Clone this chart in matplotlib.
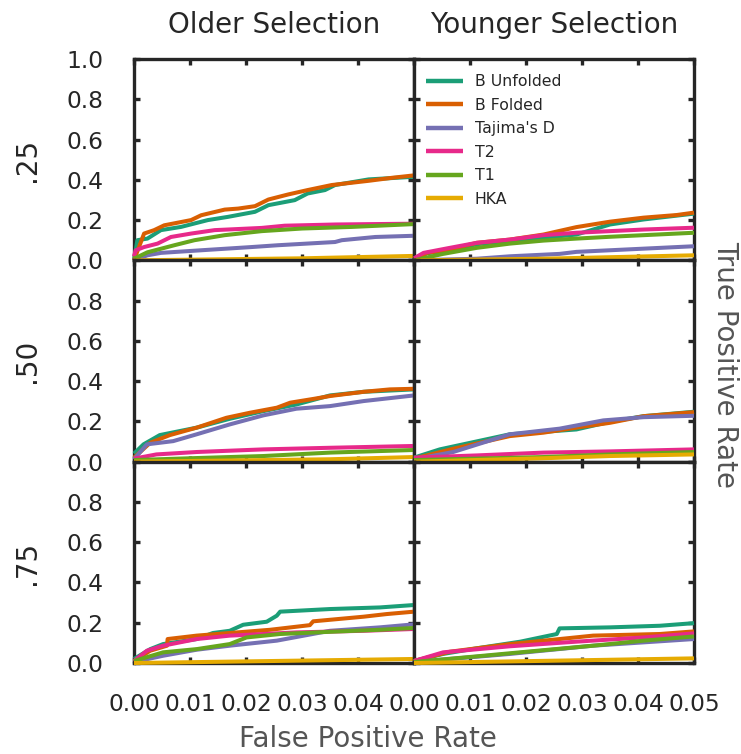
import matplotlib
matplotlib.use("Agg")
import matplotlib.pyplot as plt

# ---------------- data ----------------
series_names = ["B Unfolded", "B Folded", "Tajima's D", "T2", "T1", "HKA"]
series_colors = ["#1b9e77", "#d95f02", "#7570b3", "#e7298a", "#66a61e", "#e6ab02"]
col_titles = ["Older Selection", "Younger Selection"]
row_labels = [".25", ".50", ".75"]
x_ticks = [0.00, 0.01, 0.02, 0.03, 0.04, 0.05]
x_ticklabels = ["0.00", "0.01", "0.02", "0.03", "0.04", "0.05"]
y_ticks = [0.0, 0.2, 0.4, 0.6, 0.8, 1.0]
y_ticklabels = ["0.0", "0.2", "0.4", "0.6", "0.8", "1.0"]

older_25 = {
    "B Unfolded": ([0, 0.0006, 0.0024, 0.0048, 0.0084, 0.0132, 0.0168, 0.0216, 0.024, 0.0287, 0.031, 0.0341, 0.0359, 0.0419, 0.05],
                   [0, 0.10, 0.108, 0.15, 0.166, 0.20, 0.216, 0.241, 0.274, 0.299, 0.332, 0.349, 0.374, 0.402, 0.415]),
    "B Folded": ([0, 0.0018, 0.0036, 0.0054, 0.0102, 0.012, 0.0162, 0.0186, 0.0216, 0.024, 0.0275, 0.031, 0.0353, 0.0419, 0.0461, 0.05],
                 [0, 0.133, 0.15, 0.174, 0.20, 0.224, 0.252, 0.257, 0.269, 0.302, 0.327, 0.349, 0.374, 0.395, 0.41, 0.422]),
    "Tajima's D": ([0, 0.0024, 0.0048, 0.012, 0.021, 0.0257, 0.0359, 0.0371, 0.0431, 0.05],
                   [0, 0.025, 0.037, 0.05, 0.066, 0.075, 0.091, 0.10, 0.116, 0.122]),
    "T2": ([0, 0.0003, 0.0018, 0.0042, 0.0066, 0.0102, 0.0144, 0.0228, 0.0269, 0.0359, 0.05],
           [0.02, 0.05, 0.066, 0.083, 0.116, 0.133, 0.15, 0.161, 0.172, 0.178, 0.182]),
    "T1": ([0, 0.0024, 0.0072, 0.0108, 0.0162, 0.0228, 0.030, 0.0389, 0.05],
           [0.008, 0.04, 0.075, 0.10, 0.125, 0.145, 0.158, 0.166, 0.18]),
    "HKA": ([0, 0.030, 0.05],
            [0, 0.01, 0.022]),
}

younger_25 = {
    "B Unfolded": ([0, 0.0023, 0.0064, 0.0112, 0.0171, 0.0231, 0.029, 0.035, 0.041, 0.05],
                   [0, 0.035, 0.05, 0.08, 0.098, 0.112, 0.128, 0.178, 0.203, 0.232]),
    "B Folded": ([0, 0.0023, 0.0064, 0.0112, 0.0171, 0.0231, 0.029, 0.035, 0.041, 0.0469, 0.05],
                 [0, 0.037, 0.053, 0.087, 0.103, 0.128, 0.165, 0.192, 0.212, 0.225, 0.237]),
    "Tajima's D": ([0, 0.0112, 0.0171, 0.026, 0.029, 0.035, 0.041, 0.05],
                   [0, 0.008, 0.02, 0.032, 0.042, 0.05, 0.058, 0.07]),
    "T2": ([0, 0.0017, 0.0064, 0.0112, 0.0171, 0.0231, 0.029, 0.035, 0.041, 0.05],
           [0.01, 0.037, 0.062, 0.087, 0.103, 0.125, 0.137, 0.145, 0.153, 0.162]),
    "T1": ([0, 0.0052, 0.0112, 0.0171, 0.0231, 0.029, 0.035, 0.041, 0.05],
           [0, 0.032, 0.062, 0.083, 0.098, 0.108, 0.117, 0.125, 0.137]),
    "HKA": ([0, 0.0231, 0.05],
            [0, 0.008, 0.025]),
}

older_50 = {
    "B Unfolded": ([0, 0.0017, 0.0046, 0.0112, 0.0171, 0.0231, 0.029, 0.035, 0.041, 0.05],
                   [0.04, 0.086, 0.132, 0.169, 0.213, 0.251, 0.284, 0.329, 0.347, 0.359]),
    "B Folded": ([0, 0.0029, 0.0064, 0.0112, 0.0165, 0.0207, 0.0255, 0.0279, 0.0321, 0.035, 0.041, 0.0457, 0.05],
                 [0.02, 0.094, 0.132, 0.169, 0.218, 0.243, 0.268, 0.293, 0.312, 0.326, 0.347, 0.359, 0.362]),
    "Tajima's D": ([0, 0.0023, 0.007, 0.0112, 0.0171, 0.0231, 0.029, 0.035, 0.041, 0.05],
                   [0.012, 0.086, 0.102, 0.136, 0.185, 0.23, 0.263, 0.276, 0.301, 0.329]),
    "T2": ([0, 0.004, 0.0112, 0.0231, 0.035, 0.05],
           [0.015, 0.036, 0.048, 0.061, 0.069, 0.078]),
    "T1": ([0, 0.0112, 0.0231, 0.035, 0.05],
           [0.008, 0.018, 0.028, 0.045, 0.058]),
    "HKA": ([0, 0.035, 0.05],
            [0, 0.012, 0.023]),
}

younger_50 = {
    "B Unfolded": ([0, 0.0046, 0.0171, 0.029, 0.035, 0.041, 0.05],
                   [0.02, 0.061, 0.136, 0.16, 0.198, 0.226, 0.248]),
    "B Folded": ([0, 0.007, 0.0171, 0.0231, 0.029, 0.035, 0.041, 0.05],
                 [0.015, 0.064, 0.127, 0.144, 0.169, 0.193, 0.226, 0.246]),
    "Tajima's D": ([0, 0.007, 0.0171, 0.026, 0.0338, 0.041, 0.05],
                   [0.012, 0.048, 0.136, 0.164, 0.205, 0.221, 0.228]),
    "T2": ([0, 0.0112, 0.0231, 0.035, 0.05],
           [0.02, 0.031, 0.045, 0.051, 0.061]),
    "T1": ([0, 0.0231, 0.035, 0.05],
           [0.008, 0.023, 0.036, 0.048]),
    "HKA": ([0, 0.0231, 0.035, 0.05],
            [0, 0.017, 0.028, 0.036]),
}

older_75 = {
    "B Unfolded": ([0, 0.0029, 0.0052, 0.0112, 0.0141, 0.0171, 0.0195, 0.0237, 0.0255, 0.0261, 0.035, 0.0439, 0.05],
                   [0.02, 0.069, 0.094, 0.119, 0.149, 0.16, 0.19, 0.205, 0.235, 0.255, 0.268, 0.276, 0.288]),
    "B Folded": ([0, 0.0029, 0.0059, 0.006, 0.0112, 0.0171, 0.0243, 0.0314, 0.032, 0.041, 0.0451, 0.05],
                 [0.01, 0.061, 0.086, 0.119, 0.136, 0.149, 0.165, 0.188, 0.207, 0.23, 0.243, 0.255]),
    "Tajima's D": ([0, 0.0052, 0.0112, 0.0171, 0.0255, 0.035, 0.0439, 0.05],
                   [0.005, 0.036, 0.066, 0.086, 0.111, 0.16, 0.177, 0.192]),
    "T2": ([0, 0.0023, 0.0052, 0.0112, 0.0171, 0.029, 0.041, 0.05],
           [0.01, 0.061, 0.086, 0.119, 0.136, 0.152, 0.16, 0.169]),
    "T1": ([0, 0.0052, 0.0112, 0.0171, 0.0201, 0.0261, 0.035, 0.0439, 0.05],
           [0.01, 0.053, 0.069, 0.094, 0.127, 0.144, 0.155, 0.165, 0.174]),
    "HKA": ([0, 0.05],
            [0, 0.02]),
}

younger_75 = {
    "B Unfolded": ([0, 0.0052, 0.0112, 0.019, 0.0255, 0.026, 0.035, 0.0439, 0.05],
                   [0.01, 0.045, 0.073, 0.106, 0.144, 0.172, 0.177, 0.185, 0.198]),
    "B Folded": ([0, 0.0064, 0.0171, 0.026, 0.032, 0.0439, 0.05],
                 [0.01, 0.056, 0.094, 0.119, 0.136, 0.144, 0.157]),
    "Tajima's D": ([0, 0.0171, 0.032, 0.05],
                   [0.005, 0.045, 0.086, 0.119]),
    "T2": ([0, 0.0052, 0.0171, 0.029, 0.041, 0.05],
           [0.01, 0.053, 0.083, 0.106, 0.127, 0.147]),
    "T1": ([0, 0.0112, 0.0201, 0.032, 0.041, 0.05],
           [0.005, 0.033, 0.056, 0.086, 0.111, 0.132]),
    "HKA": ([0, 0.05],
            [0, 0.023]),
}

panels = [[older_25, younger_25], [older_50, younger_50], [older_75, younger_75]]

# ---------------- style ----------------
dark = "#262626"
grey = "#555555"
plt.rcParams["font.family"] = ["DejaVu Sans"]

fig = plt.figure(figsize=(7.41, 7.54), dpi=100)
W, H = 741.0, 754.0
left, right, top, bottom = 134 / W, 694 / W, 1 - 59 / H, 1 - 663 / H
gs = fig.add_gridspec(3, 2, left=left, right=right, top=top, bottom=bottom,
                      wspace=0, hspace=0)

for r in range(3):
    for c in range(2):
        ax = fig.add_subplot(gs[r, c])
        data = panels[r][c]
        for name, color in zip(series_names, series_colors):
            xs, ys = data[name]
            ax.plot(xs, ys, color=color, lw=2.9, label=name,
                    solid_capstyle="butt", clip_on=False, zorder=3)
        ax.set_xlim(0, 0.05)
        ax.set_ylim(0, 1.0)
        for sp in ax.spines.values():
            sp.set_linewidth(2.4)
            sp.set_color(dark)
            sp.set_zorder(2.5)
        ax.tick_params(direction="in", length=4.5, width=2.4, color=dark,
                       top=True, right=True, labelsize=16.8, labelcolor=dark)
        ax.tick_params(axis="x", pad=21.5)
        ax.tick_params(axis="y", pad=22)
        ax.set_xticks(x_ticks)
        ax.set_yticks(y_ticks)
        if r == 2:
            labs = list(x_ticklabels)
            if c == 0:
                labs[-1] = ""
            ax.set_xticklabels(labs)
        else:
            ax.set_xticklabels([])
        if c == 0:
            labs = list(y_ticklabels)
            if r > 0:
                labs[-1] = ""
            ax.set_yticklabels(labs)
        else:
            ax.set_yticklabels([])
        if r == 0 and c == 1:
            leg = ax.legend(loc="upper left", bbox_to_anchor=(0.021, 0.956),
                            frameon=False, fontsize=11.3,
                            handlelength=2.35, handletextpad=0.75,
                            labelspacing=0.54, borderaxespad=0.0,
                            borderpad=0.4)
            for t in leg.get_texts():
                t.set_color(dark)
            for l in leg.get_lines():
                l.set_linewidth(3.2)

# column titles
for c, title in enumerate(col_titles):
    xc = (134 + 280 * c + 140) / W
    fig.text(xc, 1 - 33 / H, title, ha="center", va="baseline",
             fontsize=20, color=dark)

# row labels
row_centers = [159.5, 361, 562.5]
for yc, lab in zip(row_centers, row_labels):
    fig.text(27 / W, 1 - yc / H, lab, ha="center", va="center", rotation=90,
             fontsize=20, color=dark)

fig.text(368 / W, 1 - 747 / H, "False Positive Rate", ha="center",
         va="baseline", fontsize=20, color=grey)
fig.text(711 / W, 1 - 364.5 / H, "True Positive Rate", ha="left",
         va="center", rotation=270, fontsize=20, color=grey)

fig.savefig("out.png", dpi=100)
